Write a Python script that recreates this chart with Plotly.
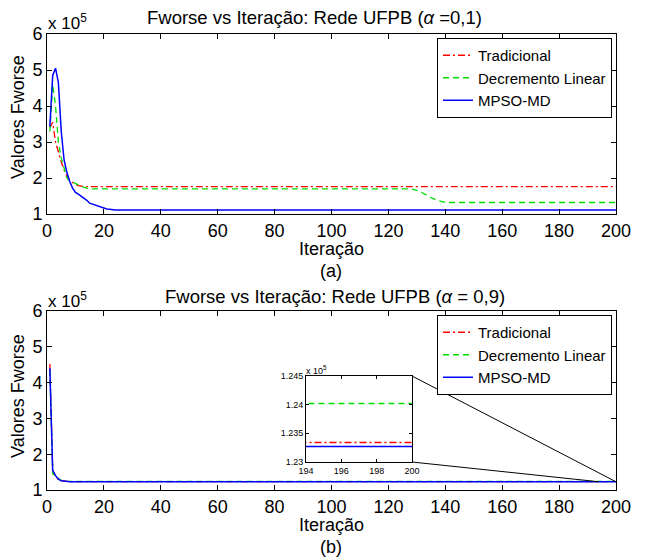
import plotly.graph_objects as go

W, H = 645, 559

# ---------------- data (values in units of 10^5) ----------------
# (a) alpha = 0,1
trad_a_x = [1, 2, 3, 4, 5, 6, 7, 8, 9, 10, 11, 12, 13, 200]
trad_a_y = [3.40, 3.55, 3.00, 2.70, 2.45, 2.22, 2.05, 1.93, 1.87, 1.82, 1.79, 1.77, 1.76, 1.76]

decr_a_x = [1, 2, 3, 4, 5, 6, 7, 8, 9, 10, 11, 12, 13, 14, 15, 128, 131, 134, 137, 140, 200]
decr_a_y = [3.29, 4.60, 4.00, 3.00, 2.55, 2.27, 2.00, 1.92, 1.88, 1.84, 1.80, 1.77, 1.74, 1.72, 1.70,
            1.70, 1.63, 1.50, 1.38, 1.32, 1.32]

mpso_a_x = [1, 2, 3, 4, 5, 6, 7, 8, 9, 10, 11, 12, 13, 14, 15, 16, 17, 18, 19, 20, 21, 22, 23, 24, 200]
mpso_a_y = [3.43, 4.85, 5.05, 4.65, 3.30, 2.50, 2.15, 1.90, 1.72, 1.60, 1.55, 1.50, 1.44, 1.38,
            1.30, 1.27, 1.24, 1.21, 1.18, 1.15, 1.14, 1.13, 1.12, 1.11, 1.11]

# (b) alpha = 0,9
trad_b_x = [1, 2, 3, 4, 5, 6, 7, 8, 200]
trad_b_y = [4.52, 1.55, 1.38, 1.30, 1.26, 1.245, 1.236, 1.2334, 1.2334]

decr_b_x = [1, 2, 3, 4, 5, 6, 7, 8, 200]
decr_b_y = [4.35, 1.45, 1.40, 1.32, 1.27, 1.25, 1.242, 1.2402, 1.2402]

mpso_b_x = [1, 2, 3, 4, 5, 6, 7, 8, 200]
mpso_b_y = [4.40, 1.55, 1.40, 1.30, 1.26, 1.245, 1.235, 1.2327, 1.2327]

series_names = ["Tradicional", "Decremento Linear", "MPSO-MD"]
main_ticks_x = [0, 20, 40, 60, 80, 100, 120, 140, 160, 180, 200]
main_ticks_y = [1, 2, 3, 4, 5, 6]
inset_ticks_x = [194, 196, 198, 200]
inset_ticks_y = [1.23, 1.235, 1.24, 1.245]
inset_ticktext_y = ["1.23", "1.235", "1.24", "1.245"]

# ---------------- layout geometry (pixels) ----------------
def px_x(p):
    return p / W

def px_y(p):
    return 1 - p / H

AX_L, AX_R = 47, 616
TOP_T, TOP_B = 34, 214
BOT_T, BOT_B = 311, 490
IN_L, IN_R, IN_T, IN_B = 306, 412, 376, 462

FONT = "Liberation Sans, Arial, sans-serif"
RED, GREEN, BLUE = "#FF0000", "#00E000", "#0000FF"
styles = [
    dict(color=RED, width=1.3, dash="7px,3px,2px,3px"),
    dict(color=GREEN, width=1.3, dash="6px,4px"),
    dict(color=BLUE, width=1.5, dash="solid"),
]

fig = go.Figure()

top = [(trad_a_x, trad_a_y), (decr_a_x, decr_a_y), (mpso_a_x, mpso_a_y)]
bot = [(trad_b_x, trad_b_y), (decr_b_x, decr_b_y), (mpso_b_x, mpso_b_y)]

for (x, y), name, st in zip(top, series_names, styles):
    fig.add_trace(go.Scatter(x=x, y=y, mode="lines", name=name, line=st,
                             xaxis="x", yaxis="y", legend="legend"))
for (x, y), name, st in zip(bot, series_names, styles):
    fig.add_trace(go.Scatter(x=x, y=y, mode="lines", name=name, line=st,
                             xaxis="x2", yaxis="y2", legend="legend2"))
for (x, y), name, st in zip(bot, series_names, styles):
    fig.add_trace(go.Scatter(x=x, y=y, mode="lines", name=name, line=st,
                             xaxis="x3", yaxis="y3", showlegend=False))

main_axis = dict(showline=True, linecolor="black", linewidth=1, mirror="allticks",
                 ticks="inside", ticklen=5, tickcolor="black", showgrid=False,
                 zeroline=False, automargin=False,
                 tickfont=dict(family=FONT, size=18, color="black"))

legend_style = dict(xanchor="right", yanchor="top", bgcolor="white",
                    bordercolor="black", borderwidth=1,
                    font=dict(family=FONT, size=15, color="black"),
                    tracegroupgap=0, itemwidth=30)

xd = [px_x(AX_L), px_x(AX_R)]
fig.update_layout(
    template="none",
    width=W, height=H,
    margin=dict(l=0, r=0, t=0, b=0, pad=0),
    paper_bgcolor="white", plot_bgcolor="white",
    font=dict(family=FONT, color="black"),
    xaxis=dict(main_axis, domain=xd, range=[0, 200], tickvals=main_ticks_x, anchor="y"),
    yaxis=dict(main_axis, domain=[px_y(TOP_B), px_y(TOP_T)], range=[1, 6],
               tickvals=main_ticks_y, anchor="x"),
    xaxis2=dict(main_axis, domain=xd, range=[0, 200], tickvals=main_ticks_x, anchor="y2"),
    yaxis2=dict(main_axis, domain=[px_y(BOT_B), px_y(BOT_T)], range=[1, 6],
                tickvals=main_ticks_y, anchor="x2"),
    xaxis3=dict(main_axis, domain=[px_x(IN_L), px_x(IN_R)], range=[194, 200],
                tickvals=inset_ticks_x, anchor="y3", ticklen=3,
                tickfont=dict(family=FONT, size=9, color="black")),
    yaxis3=dict(main_axis, domain=[px_y(IN_B), px_y(IN_T)], range=[1.23, 1.245],
                tickvals=inset_ticks_y, ticktext=inset_ticktext_y, anchor="x3", ticklen=3,
                tickfont=dict(family=FONT, size=9, color="black")),
    legend=dict(legend_style, x=px_x(612), y=px_y(38)),
    legend2=dict(legend_style, x=px_x(612), y=px_y(315)),
    showlegend=True,
)

ann = []
def text(x, y, s, size, xanchor="center", yanchor="middle", angle=0):
    ann.append(dict(x=px_x(x), y=px_y(y), xref="paper", yref="paper", text=s,
                    showarrow=False, xanchor=xanchor, yanchor=yanchor, textangle=angle,
                    font=dict(family=FONT, size=size, color="black")))

text(145, 18, "Fworse vs Iteração: Rede UFPB (<i>α</i> =0,1)", 18.5, xanchor="left")
text(163, 296, "Fworse vs Iteração: Rede UFPB (<i>α</i> = 0,9)", 18.5, xanchor="left")
text(46, 22, "x 10<sup>5</sup>", 17, xanchor="left")
text(46, 300, "x 10<sup>5</sup>", 17, xanchor="left")
text(304, 370, "x 10<sup>5</sup>", 9, xanchor="left")
text(331, 249, "Iteração", 18)
text(331, 271, "(a)", 18)
text(331, 525, "Iteração", 18)
text(331, 547, "(b)", 18)
text(18, 117, "Valores Fworse", 18, angle=-90)
text(18, 396, "Valores Fworse", 18, angle=-90)
fig.update_layout(annotations=ann)

# zoom connector lines from inset corners to the zoomed region of plot (b)
def data_to_paper_b(xv, yv):
    xp = px_x(AX_L) + (xv - 0) / 200 * (px_x(AX_R) - px_x(AX_L))
    yp = px_y(BOT_B) + (yv - 1) / 5 * (px_y(BOT_T) - px_y(BOT_B))
    return xp, yp

p1 = data_to_paper_b(200, 1.23)
p2 = data_to_paper_b(194, 1.23)
fig.add_shape(type="line", xref="paper", yref="paper", x0=px_x(IN_R), y0=px_y(IN_T),
              x1=p1[0], y1=p1[1], line=dict(color="black", width=1))
fig.add_shape(type="line", xref="paper", yref="paper", x0=px_x(IN_R), y0=px_y(IN_B),
              x1=p2[0], y1=p2[1], line=dict(color="black", width=1))

fig.write_html("out.html",
               config={"displayModeBar": False},
               post_script="document.body.style.margin='0px';"
                           "document.body.style.overflow='hidden';")
